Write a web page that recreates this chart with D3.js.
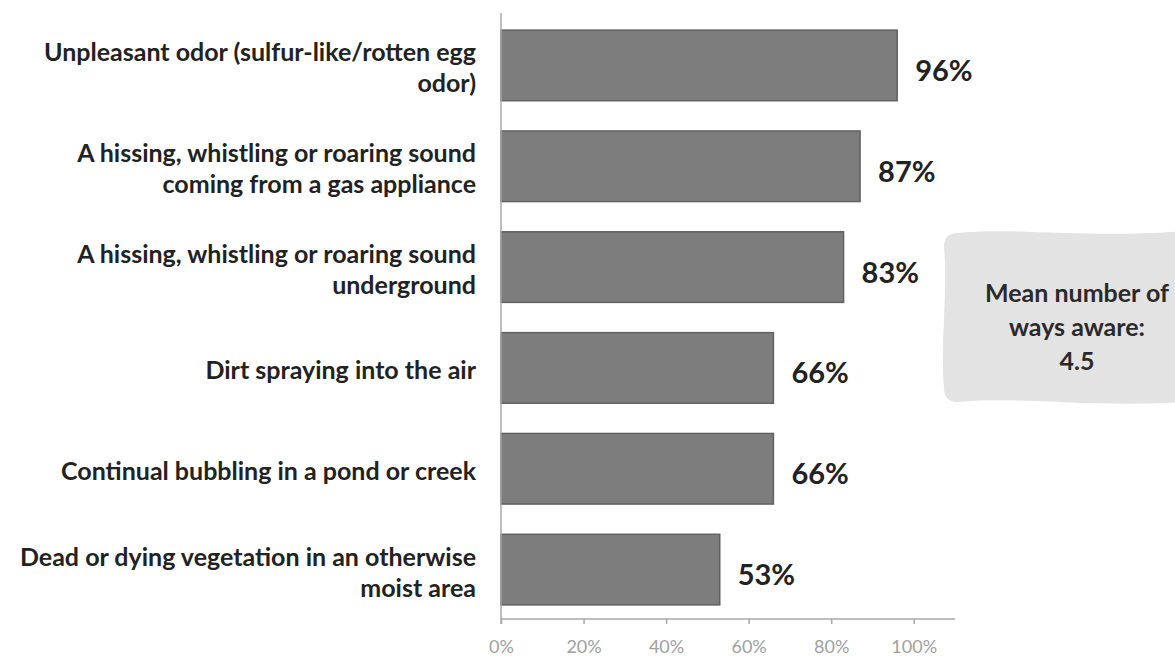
<!DOCTYPE html>
<html>
<head>
<meta charset="utf-8">
<script src="https://cdn.jsdelivr.net/npm/d3@7"></script>
<style>
  html, body { margin: 0; padding: 0; background: #fff; }
  svg { display: block; }
  text { font-family: Lato, "Open Sans", "DejaVu Sans", sans-serif; }
</style>
</head>
<body>
<svg id="chart" width="1175" height="657"></svg>
<script>
// Ways respondents recognise a natural gas leak (share aware of each sign)
const categories = [
  ["Unpleasant odor (sulfur-like/rotten egg", "odor)"],
  ["A hissing, whistling or roaring sound", "coming from a gas appliance"],
  ["A hissing, whistling or roaring sound", "underground"],
  ["Dirt spraying into the air"],
  ["Continual bubbling in a pond or creek"],
  ["Dead or dying vegetation in an otherwise", "moist area"]
];
const values = [0.96, 0.87, 0.83, 0.66, 0.66, 0.53];
const tickValues = [0, 0.2, 0.4, 0.6, 0.8, 1.0];
const tickLabels = ["0%", "20%", "40%", "60%", "80%", "100%"];
const noteLines = ["Mean number of", "ways aware:", "4.5"];

const svg = d3.select("#chart");
const plotLeft = 501, plotRight = 955, plotTop = 15, plotBottom = 620;

const x = d3.scaleLinear().domain([0, 1.1]).range([plotLeft, plotRight]);
const y = d3.scaleBand()
  .domain(d3.range(values.length))
  .range([plotTop, plotBottom])
  .paddingInner(0.3)
  .paddingOuter(0.15);

// Callout box on the right
const bx0 = 944, by0 = 233, bx1 = 1185, by1 = 402;
const boxPath = d3.path();
const r = 14;
boxPath.moveTo(bx0 + r, by0);
boxPath.bezierCurveTo(bx0 + 70, by0 - 6, bx0 + 150, by0 + 6, bx1, by0 - 2);
boxPath.lineTo(bx1, by1);
boxPath.bezierCurveTo(bx0 + 150, by1 + 6, bx0 + 70, by1 - 6, bx0 + r, by1);
boxPath.quadraticCurveTo(bx0, by1, bx0, by1 - r);
boxPath.bezierCurveTo(bx0 - 4, by0 + 110, bx0 + 4, by0 + 60, bx0, by0 + r);
boxPath.quadraticCurveTo(bx0, by0, bx0 + r, by0);
svg.append("path")
  .attr("d", boxPath.toString())
  .attr("fill", "#e3e3e3");

const noteY = [292, 326, 360];
svg.append("g")
  .selectAll("text")
  .data(noteLines)
  .join("text")
  .attr("x", 1077)
  .attr("y", (d, i) => noteY[i])
  .attr("text-anchor", "middle")
  .attr("dominant-baseline", "central")
  .attr("font-size", 25)
  .attr("font-weight", 700)
  .attr("fill", "#2a2a2a")
  .text(d => d);

// Bars
svg.append("g")
  .selectAll("rect")
  .data(values)
  .join("rect")
  .attr("x", x(0))
  .attr("y", (d, i) => y(i))
  .attr("width", d => x(d) - x(0))
  .attr("height", y.bandwidth())
  .attr("fill", "#7d7d7d")
  .attr("stroke", "#606060")
  .attr("stroke-width", 1.5);

// Value labels
svg.append("g")
  .selectAll("text")
  .data(values)
  .join("text")
  .attr("x", d => x(d) + 18)
  .attr("y", (d, i) => y(i) + y.bandwidth() / 2 + 4)
  .attr("dominant-baseline", "central")
  .attr("font-size", 29)
  .attr("font-weight", 700)
  .attr("fill", "#222")
  .text(d => Math.round(d * 100) + "%");

// Category labels, right aligned against the axis
const labelG = svg.append("g");
categories.forEach((lines, i) => {
  const cy = y(i) + y.bandwidth() / 2 + 1.5;
  const lh = 31;
  const start = cy - (lines.length - 1) * lh / 2;
  labelG.append("text")
    .attr("text-anchor", "end")
    .attr("font-size", 25)
    .attr("font-weight", 700)
    .attr("fill", "#222")
    .selectAll("tspan")
    .data(lines)
    .join("tspan")
    .attr("x", 476)
    .attr("y", (d, j) => start + j * lh)
    .attr("dominant-baseline", "central")
    .text(d => d);
});

// Axes
const xAxis = d3.axisBottom(x)
  .tickValues(tickValues)
  .tickFormat((d, i) => tickLabels[i])
  .tickSize(5)
  .tickPadding(16);
const gx = svg.append("g")
  .attr("transform", `translate(0,${plotBottom - 1})`)
  .call(xAxis);
gx.select(".domain").attr("stroke", "#a8a8a8").attr("stroke-width", 1.5)
  .attr("d", `M${plotLeft},0H${plotRight}`);
gx.selectAll(".tick line").attr("stroke", "#a8a8a8").attr("stroke-width", 1.5);
gx.selectAll(".tick text")
  .attr("fill", "#a0a0a0")
  .attr("font-size", 18)
  .attr("font-family", "Lato, 'Open Sans', sans-serif");

svg.append("line")
  .attr("x1", plotLeft).attr("x2", plotLeft)
  .attr("y1", 13).attr("y2", plotBottom + 4)
  .attr("stroke", "#a8a8a8")
  .attr("stroke-width", 1.5);
</script>
</body>
</html>
